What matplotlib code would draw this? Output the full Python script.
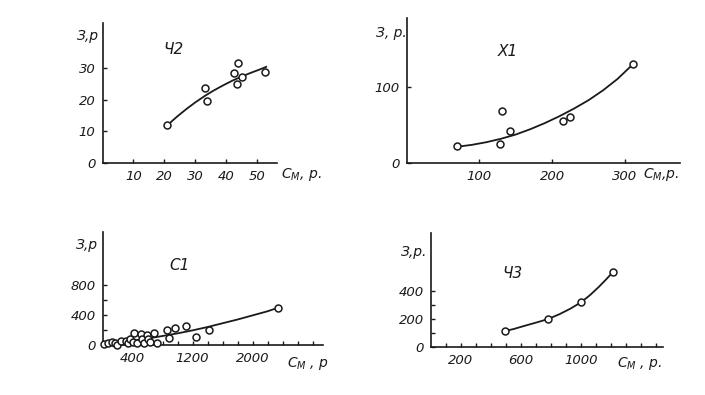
import matplotlib
matplotlib.use("Agg")
import matplotlib.pyplot as plt
import numpy as np

plt.rcParams['font.family'] = ['DejaVu Sans']
plt.rcParams['font.style'] = 'italic'
plt.rcParams['mathtext.fontset'] = 'dejavusans'

# panel Ч2
ch2_x = [20.8, 33.1, 33.7, 42.5, 43.9, 43.7, 45.1, 52.7]
ch2_y = [12.0, 23.8, 19.7, 28.6, 31.7, 25.2, 27.3, 28.9]
ch2_cx = [21, 24, 27, 30, 33, 36, 39, 42, 45, 48, 51, 53]
ch2_cy = [12.0, 14.6, 17.0, 19.2, 21.2, 23.0, 24.6, 26.1, 27.4, 28.6, 29.7, 30.5]

# panel Х1
x1_x = [68.8, 128.4, 130.7, 142.2, 214.7, 224.8, 311.9]
x1_y = [21.9, 25.0, 68.4, 41.7, 54.8, 59.6, 129.8]
x1_cx = [70, 90, 110, 130, 150, 170, 190, 210, 230, 250, 270, 290, 312]
x1_cy = [21, 23.5, 27, 31.5, 37, 44, 52, 61, 71, 82, 95, 110, 130]

# panel С1
c1_x = [17, 75, 120, 173, 187, 244, 307, 342, 364, 422, 409, 453, 511, 520, 555,
        587, 609, 631, 689, 720, 853, 888, 964, 1111, 1244, 1418, 2342]
c1_y = [9, 22, 44, 31, 0, 53, 58, 22, 75, 155, 44, 22, 142, 75, 27,
        133, 75, 36, 164, 22, 200, 89, 231, 253, 111, 200, 498]
c1_cx = [30, 200, 400, 600, 800, 1000, 1200, 1400, 1600, 1800, 2000, 2200, 2342]
c1_cy = [0, 25, 55, 85, 120, 155, 195, 240, 290, 340, 395, 450, 498]

# panel Ч3
ch3_x = [493, 782, 1000, 1211]
ch3_y = [114, 200, 319, 533]
ch3_cx = [493, 550, 620, 700, 782, 860, 930, 1000, 1060, 1120, 1170, 1211]
ch3_cy = [114, 128, 150, 174, 200, 236, 274, 319, 370, 430, 485, 533]

fig = plt.figure(figsize=(7.05, 3.95), dpi=100)
ink = '#1a1a1a'


def panel(rect, xs, ys, cx, cy, xlim, ylim, xticks, xlabels, yticks, ylabels,
          minor_x, minor_y, name, name_xy, ylab, ylab_xy, xlab, xlab_xy):
    ax = fig.add_axes(rect)
    ax.plot(cx, cy, color=ink, lw=1.3, zorder=2, solid_joinstyle='round')
    ax.plot(xs, ys, 'o', mfc='white', mec=ink, mew=1.1, ms=5, zorder=3, clip_on=False)
    ax.set_xlim(*xlim)
    ax.set_ylim(*ylim)
    for s in ['top', 'right']:
        ax.spines[s].set_visible(False)
    for s in ['left', 'bottom']:
        ax.spines[s].set_linewidth(1.2)
        ax.spines[s].set_color(ink)
    ax.set_xticks(xticks)
    ax.set_xticklabels(xlabels)
    ax.set_yticks(yticks)
    ax.set_yticklabels(ylabels)
    if minor_x:
        ax.set_xticks(minor_x, minor=True)
    if minor_y:
        ax.set_yticks(minor_y, minor=True)
    ax.tick_params(which='both', direction='in', length=3, width=1, colors=ink,
                   labelsize=9.5, pad=5)
    ax.patch.set_alpha(0)
    fig.text(name_xy[0] / 705, 1 - name_xy[1] / 395, name, fontsize=11,
             ha='center', va='center', color=ink)
    fig.text(ylab_xy[0] / 705, 1 - ylab_xy[1] / 395, ylab, fontsize=10,
             ha='center', va='center', color=ink)
    fig.text(xlab_xy[0] / 705, 1 - xlab_xy[1] / 395, xlab, fontsize=10,
             ha='center', va='center', color=ink)
    return ax


panel([0.1454, 0.5873, 0.2475, 0.3544], ch2_x, ch2_y, ch2_cx, ch2_cy,
      (0, 56.5), (0, 44.4), [10, 20, 30, 40, 50], ['10', '20', '30', '40', '50'],
      [0, 10, 20, 30], ['0', '10', '20', '30'], None, None,
      'Ч2', (173, 50), 'З,р', (88, 36), r'$С_М$, р.', (301, 175))

panel([0.5769, 0.5881, 0.3877, 0.3663], x1_x, x1_y, x1_cx, x1_cy,
      (0, 376), (0, 190), [100, 200, 300], ['100', '200', '300'],
      [0, 100], ['0', '100'], None, None,
      'Х1', (508, 52), 'З, р.', (391, 33), r'$С_М$,р.', (661, 175))

panel([0.1454, 0.1266, 0.3128, 0.2868], c1_x, c1_y, c1_cx, c1_cy,
      (0, 2937), (0, 1510), [400, 1200, 2000], ['400', '1200', '2000'],
      [0, 400, 800], ['0', '400', '800'], list(range(200, 2801, 200)),
      [200, 600], 'С1', (180, 265), 'З,р', (87, 245), r'$С_М$ , р', (308, 364))

panel([0.6113, 0.1215, 0.3291, 0.2886], ch3_x, ch3_y, ch3_cx, ch3_cy,
      (0, 1547), (0, 814), [200, 600, 1000], ['200', '600', '1000'],
      [0, 200, 400], ['0', '200', '400'], list(range(100, 1501, 100)),
      [100, 300], 'Ч3', (512, 273), 'З,р.', (414, 252), r'$С_М$ , р.', (640, 364))

fig.savefig('out.png', dpi=100)
